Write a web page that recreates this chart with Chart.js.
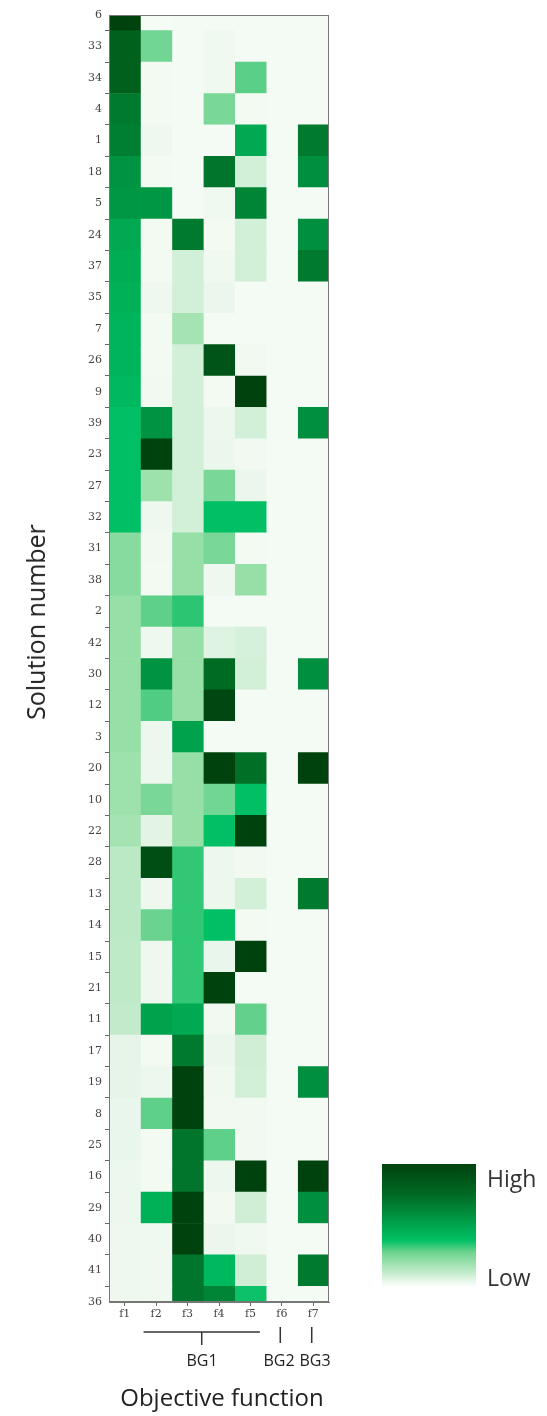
<!DOCTYPE html>
<html>
<head>
<meta charset="utf-8">
<style>
  body { margin: 0; background: #fff; }
  #wrap { position: relative; width: 547px; height: 1416px; font-family: "Open Sans", "Noto Sans", sans-serif; color: #222; }
  #heat { position: absolute; left: 0; top: 0; }
  .lbl { position: absolute; white-space: nowrap; }
  #ytitle { left: 35px; top: 622px; font-size: 25px; transform: translate(-50%, -50%) rotate(-90deg); }
  #xtitle { left: 222px; top: 1396px; font-size: 24px; transform: translate(-50%, -50%); }
  .bg { top: 1360px; font-size: 16px; transform: translate(-50%, -50%); }
  #scale { position: absolute; left: 382px; top: 1164px; width: 94px; height: 123px;
    background: linear-gradient(to bottom, #00420e 0%, #006a24 25%, #00a04a 48%, #00c064 62%, #6fd48e 72%, #b8e8c2 86%, #ffffff 100%); }
  .key { left: 487px; font-size: 23px; color: #333; transform: translateY(-50%); }
</style>
</head>
<body>
<div id="wrap">
  <canvas id="heat" width="547" height="1416"></canvas>
  <div class="lbl" id="ytitle">Solution number</div>
  <div class="lbl" id="xtitle">Objective function</div>
  <div class="lbl bg" style="left:202px">BG1</div>
  <div class="lbl bg" style="left:279px">BG2</div>
  <div class="lbl bg" style="left:315px">BG3</div>
  <div id="scale"></div>
  <div class="lbl key" style="top:1178px">High</div>
  <div class="lbl key" style="top:1277px">Low</div>
</div>

<script src="https://cdn.jsdelivr.net/npm/chart.js"></script>
<script>
  // solution numbers, top to bottom
  const solutions = ['6','33','34','4','1','18','5','24','37','35','7','26','9','39','23','27','32','31','38','2','42',
    '30','12','3','20','10','22','28','13','14','15','21','11','17','19','8','25','16','29','40','41','36'];
  const objectives = ['f1','f2','f3','f4','f5','f6','f7'];

  // relative level per cell (0 = low, 100 = high)
  const f1 = [100,95,95,90,89,84,83,78,77,76, 75,75,74,72,72,72,72,44,44,40, 40,40,40,40,38,38,36,30,30,30, 29,29,28,10,10,8,8,6,6,5, 5,5];
  const f2 = [0,50,2,2,5,2,83,2,2,5, 2,2,3,84,100,38,5,3,2,55, 5,84,58,6,6,48,12,98,5,52, 5,5,80,2,6,55,2,2,76,4, 4,4];
  const f3 = [1,1,1,1,1,1,1,90,22,22, 36,22,22,22,22,22,22,40,40,65, 40,40,40,80,40,40,40,64,64,64, 64,64,78,90,100,100,91,91,100,100, 91,91];
  const f4 = [1,4,4,48,1,91,4,2,4,7, 1,97,2,6,7,48,72,48,5,1, 15,93,99,1,100,50,72,6,6,72, 8,100,3,7,4,3,55,6,3,7, 74,88];
  const f5 = [1,1,56,2,78,22,88,22,22,1, 1,3,100,22,3,7,72,2,40,1, 20,22,1,1,92,72,100,3,22,2, 100,1,54,24,22,3,3,100,24,4, 24,70];
  const f6 = [1,1,1,1,1,1,1,1,1,1, 1,1,1,1,1,1,1,1,1,1, 1,1,1,1,1,1,1,1,1,1, 1,1,1,1,1,1,1,1,1,1, 1,1];
  const f7 = [1,1,1,1,90,85,1,85,90,1, 1,1,1,85,1,1,1,1,1,1, 1,85,1,1,100,1,1,1,90,1, 1,1,1,1,85,1,1,100,85,1, 90,1];
  const columns = [f1, f2, f3, f4, f5, f6, f7];

  // colour ramp, light -> bright green -> dark green
  const stops = [[0,'#f5fbf5'],[10,'#e6f5e8'],[25,'#cdeed4'],[40,'#96dfa6'],[55,'#5fd08a'],[65,'#2cc672'],
    [72,'#00bf64'],[80,'#00a24c'],[88,'#008436'],[94,'#00661f'],[100,'#00420e']];

  function hex(c) { return [1,3,5].map(i => parseInt(c.substr(i, 2), 16)); }
  function colorFor(v) {
    for (let i = 1; i < stops.length; i++) {
      if (v <= stops[i][0]) {
        const t = (v - stops[i-1][0]) / (stops[i][0] - stops[i-1][0]);
        const a = hex(stops[i-1][1]), b = hex(stops[i][1]);
        const rgb = a.map((x, k) => Math.round(x + (b[k] - x) * t));
        return `rgb(${rgb.join(',')})`;
      }
    }
    return stops[stops.length-1][1];
  }

  const datasets = columns.map((vals, c) => ({
    label: objectives[c],
    data: vals.map(() => [c, c + 1]),
    backgroundColor: vals.map(colorFor),
    borderWidth: 0,
    grouped: false,
    barPercentage: 1,
    categoryPercentage: 1
  }));

  const frame = {
    id: 'frame',
    afterDatasetsDraw(chart) {
      const a = chart.chartArea, ctx = chart.ctx, x = chart.scales.x;
      ctx.save();
      ctx.strokeStyle = '#777';
      ctx.lineWidth = 1;
      ctx.strokeRect(a.left + 0.5, a.top + 0.5, a.right - a.left - 1, a.bottom - a.top - 1);
      // group brackets under the x axis
      ctx.strokeStyle = '#333';
      ctx.lineWidth = 1.5;
      ctx.beginPath();
      ctx.moveTo(x.getPixelForValue(1.1), 1332);
      ctx.lineTo(x.getPixelForValue(4.8), 1332);
      ctx.moveTo(x.getPixelForValue(2.95), 1332);
      ctx.lineTo(x.getPixelForValue(2.95), 1345);
      ctx.moveTo(x.getPixelForValue(5.45), 1327);
      ctx.lineTo(x.getPixelForValue(5.45), 1343);
      ctx.moveTo(x.getPixelForValue(6.45), 1327);
      ctx.lineTo(x.getPixelForValue(6.45), 1343);
      ctx.stroke();
      ctx.restore();
    }
  };

  const tickFont = { family: 'DejaVu Serif', size: 11 };

  new Chart(document.getElementById('heat'), {
    type: 'bar',
    data: { labels: solutions, datasets: datasets },
    options: {
      responsive: false,
      animation: false,
      indexAxis: 'y',
      layout: { padding: { left: 69, right: 218, top: 15, bottom: 84 } },
      plugins: { legend: { display: false }, tooltip: { enabled: false } },
      scales: {
        y: {
          type: 'category',
          offset: false,
          afterFit(scale) { scale.width = 40; },
          grid: { drawOnChartArea: false, drawTicks: true, tickLength: 4, color: '#666' },
          border: { display: true, color: '#777' },
          ticks: { autoSkip: false, color: '#444', font: tickFont, padding: 3 }
        },
        x: {
          type: 'linear',
          min: 0,
          max: 7,
          afterFit(scale) { scale.height = 30; },
          afterBuildTicks(scale) { scale.ticks = objectives.map((o, i) => ({ value: i + 0.5 })); },
          grid: { drawOnChartArea: false, drawTicks: true, tickLength: 4, color: '#666' },
          border: { display: true, color: '#777' },
          ticks: { color: '#444', font: tickFont, padding: 2, maxRotation: 0,
            callback: (v) => objectives[Math.round(v - 0.5)] }
        }
      }
    },
    plugins: [frame]
  });
</script>
</body>
</html>
